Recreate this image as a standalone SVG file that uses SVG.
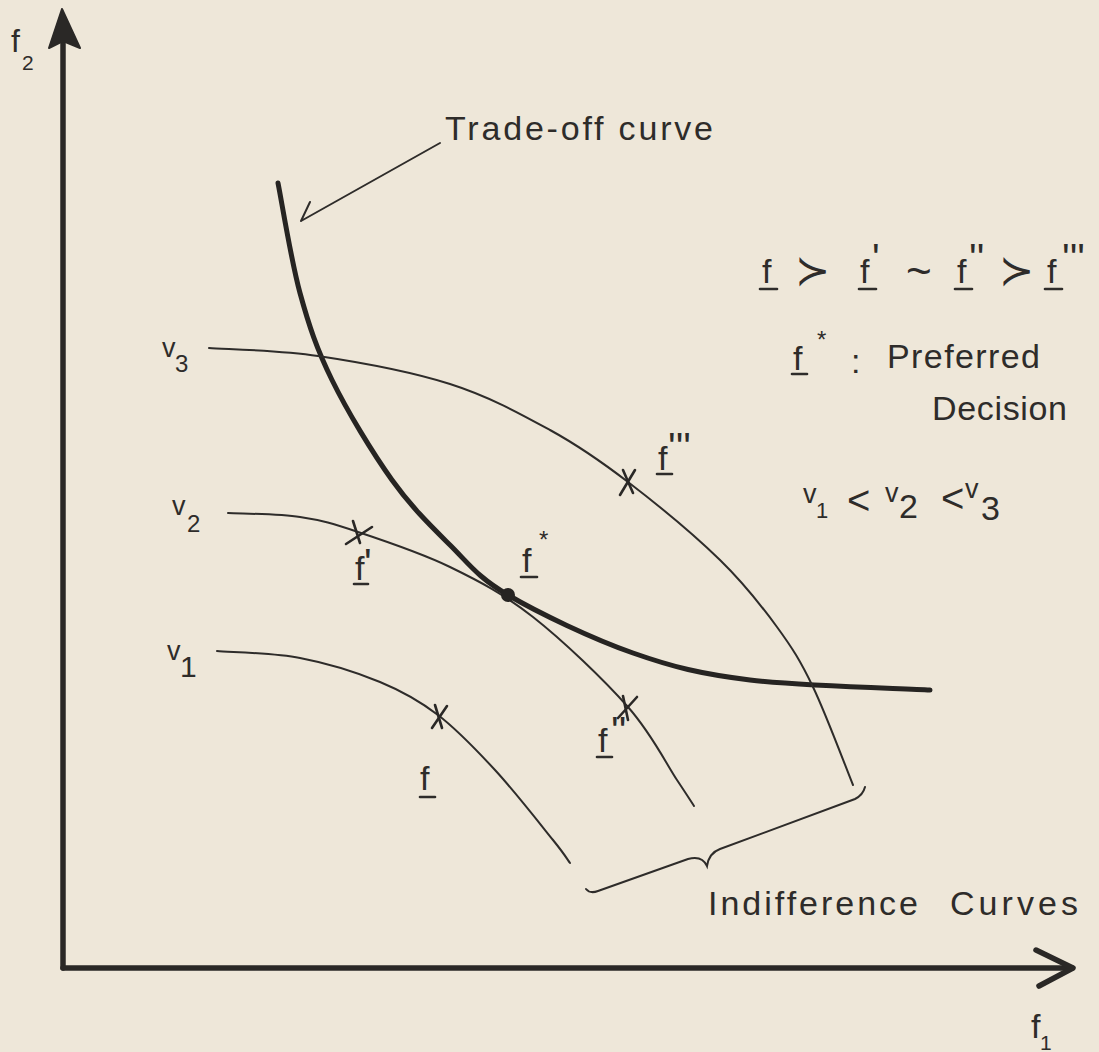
<svg xmlns="http://www.w3.org/2000/svg" width="1099" height="1052" viewBox="0 0 1099 1052">
<style>
  text { font-family: "Liberation Sans", "DejaVu Sans", sans-serif; fill: #2e2c2a; }
  .lbl { font-size: 34px; }
  .f { font-size: 34px; }
  .pr { font-size: 40px; }
  .st { font-size: 24px; }
  .v { font-size: 27px; }
  .sub { font-size: 24px; }
  .axis { stroke: #2a2826; stroke-width: 5.5; fill: none; stroke-linecap: round; stroke-linejoin: round; }
  .thin { stroke: #2e2c2a; stroke-width: 2; fill: none; stroke-linecap: round; }
  .trade { stroke: #262422; stroke-width: 5; fill: none; stroke-linecap: round; }
  .mk { stroke: #2a2826; stroke-width: 2.6; fill: none; stroke-linecap: round; }
  .ul { stroke: #2e2c2a; stroke-width: 2.6; stroke-linecap: round; }
</style>
<rect width="1099" height="1052" fill="#eee7d9"/>

<g id="axes">
  <line class="axis" x1="63" y1="40" x2="63" y2="968"/>
  <polygon points="62,9 49,48 63,41 80,48" fill="#2a2826" stroke="#2a2826" stroke-width="2" stroke-linejoin="round"/>
  <line class="axis" x1="63" y1="968" x2="1072" y2="968"/>
  <path class="axis" d="M1036,950 L1073,968 L1039,986"/>
</g>

<g id="axis-labels">
  <text class="f" x="11" y="52" style="font-size:32px">f<tspan x="22" y="70" style="font-size:21px">2</tspan></text>
  <text class="f" x="1031" y="1038">f<tspan x="1040" y="1050" style="font-size:21px">1</tspan></text>
</g>

<g id="connectors">
  <path id="trade-off-curve" class="trade" d="M278,183 C281.7,201.3 291,260.2 300,293 C309,325.8 316.7,348.8 332,380 C347.3,411.2 372.3,452.5 392,480 C411.7,507.5 430.7,525.8 450,545 C469.3,564.2 477.5,577 508,595 C538.5,613 592.7,638.8 633,653 C673.3,667.2 700.5,673.8 750,680 C799.5,686.2 900,688.3 930,690"/>
  <path id="v3-curve" class="thin" d="M209,348 C227.2,349.3 277.8,350 318,356 C358.2,362 411.3,371.7 450,384 C488.7,396.3 520.3,413.7 550,430 C579.7,446.3 599.7,460.3 628,482 C656.3,503.7 695.2,535.8 720,560 C744.8,584.2 761.5,605.8 777,627 C792.5,648.2 800.3,660.7 813,687 C825.7,713.3 846.3,768.7 853,785"/>
  <path id="v2-curve" class="thin" d="M228,513 C240,513.7 278.3,513.8 300,517 C321.7,520.2 333,523.7 358,532 C383,540.3 420.8,552.8 450,567 C479.2,581.2 503.3,593.7 533,617 C562.7,640.3 604,679.8 628,707 C652,734.2 666,763.5 677,780 C688,796.5 691.2,801.7 694,806"/>
  <path id="v1-curve" class="thin" d="M217,651 C230.8,652.2 272.8,652.8 300,658 C327.2,663.2 357,672.5 380,682 C403,691.5 418.8,700.3 438,715 C457.2,729.7 475.8,749.2 495,770 C514.2,790.8 540.5,824.5 553,840 C565.5,855.5 567.2,859.2 570,863"/>
  <path class="thin" d="M440,143 L301,221 M310,202 L301,221"/>
  <path class="thin" d="M586,889 Q590,894 598,891 L688,859 Q702,855 707,866 Q709,853 720,849 L855,799 Q863,795 865,787"/>
</g>

<g id="points">
  <g id="pt-f"><line class="mk" x1="435" y1="705" x2="442" y2="728"/><line class="mk" x1="432" y1="728" x2="447" y2="706"/></g>
  <g id="pt-f1"><line class="mk" x1="346" y1="544" x2="372" y2="527"/><line class="mk" x1="353" y1="521" x2="360" y2="543"/></g>
  <g id="pt-f2"><line class="mk" x1="623" y1="696" x2="628" y2="720"/><line class="mk" x1="618" y1="718" x2="637" y2="697"/></g>
  <g id="pt-f3"><line class="mk" x1="623" y1="470" x2="633" y2="493"/><line class="mk" x1="620" y1="495" x2="635" y2="470"/></g>
  <circle id="pt-fstar" cx="508" cy="595" r="7" fill="#262422"/>
</g>

<g id="point-labels">
  <text class="f" x="355" y="580">f</text><text class="pr" x="364" y="577">'</text>
  <line class="ul" x1="354" y1="584" x2="368" y2="584"/>
  <text class="f" x="522" y="572">f</text><text class="st" x="539" y="548">*</text>
  <line class="ul" x1="521" y1="577" x2="537" y2="577"/>
  <text class="f" x="598" y="752">f</text><text class="pr" x="611" y="745">''</text>
  <line class="ul" x1="597" y1="757" x2="612" y2="757"/>
  <text class="f" x="420" y="790">f</text>
  <line class="ul" x1="420" y1="797" x2="435" y2="797"/>
  <text class="f" x="658" y="470">f</text><text class="pr" x="668" y="461">'''</text>
  <line class="ul" x1="657" y1="474" x2="672" y2="474"/>
</g>

<g id="curve-labels">
  <text class="v" x="162" y="357">v<tspan class="sub" x="175" y="372">3</tspan></text>
  <text class="v" x="172" y="515">v<tspan class="sub" x="187" y="532">2</tspan></text>
  <text class="v" x="167" y="660">v<tspan x="180" y="677" style="font-size:30px">1</tspan></text>
</g>

<g id="title-label">
  <text class="lbl" x="445" y="140" textLength="268" lengthAdjust="spacing">Trade-off curve</text>
</g>

<g id="legend">
  <text class="f" x="762" y="283">f</text>
  <line class="ul" x1="760" y1="289" x2="777" y2="289"/>
  <text x="795" y="285" style="font-size:42px">≻</text>
  <text class="f" x="860" y="283">f</text><text class="pr" x="872" y="272">'</text>
  <line class="ul" x1="859" y1="289" x2="876" y2="289"/>
  <text x="906" y="286" style="font-size:44px">~</text>
  <text class="f" x="957" y="283">f</text><text class="pr" x="969" y="272">''</text>
  <line class="ul" x1="955" y1="289" x2="972" y2="289"/>
  <text x="999" y="285" style="font-size:42px">≻</text>
  <text class="f" x="1047" y="283">f</text><text class="pr" x="1062" y="272">'''</text>
  <line class="ul" x1="1045" y1="289" x2="1062" y2="289"/>

  <text class="f" x="793" y="370">f</text><text class="st" x="817" y="348">*</text>
  <line class="ul" x1="792" y1="374" x2="807" y2="374"/>
  <text x="851" y="373" style="font-size:34px">:</text>
  <text class="lbl" x="887" y="368" textLength="153" lengthAdjust="spacing">Preferred</text>
  <text class="lbl" x="932" y="420" textLength="135" lengthAdjust="spacing">Decision</text>

  <text class="v" x="803" y="503">v<tspan x="816" y="518" style="font-size:22px">1</tspan></text>
  <text x="847" y="514" style="font-size:40px">&lt;</text>
  <text class="v" x="885" y="502">v<tspan x="899" y="518" style="font-size:34px">2</tspan></text>
  <text x="941" y="512" style="font-size:40px">&lt;</text>
  <text class="v" x="965" y="498">v<tspan x="981" y="520" style="font-size:34px">3</tspan></text>
</g>

<g id="brace-label">
  <text class="lbl"><tspan x="708" y="915" textLength="210" lengthAdjust="spacing">Indifference</tspan><tspan x="950" y="915" textLength="128" lengthAdjust="spacing">Curves</tspan></text>
</g>
</svg>
